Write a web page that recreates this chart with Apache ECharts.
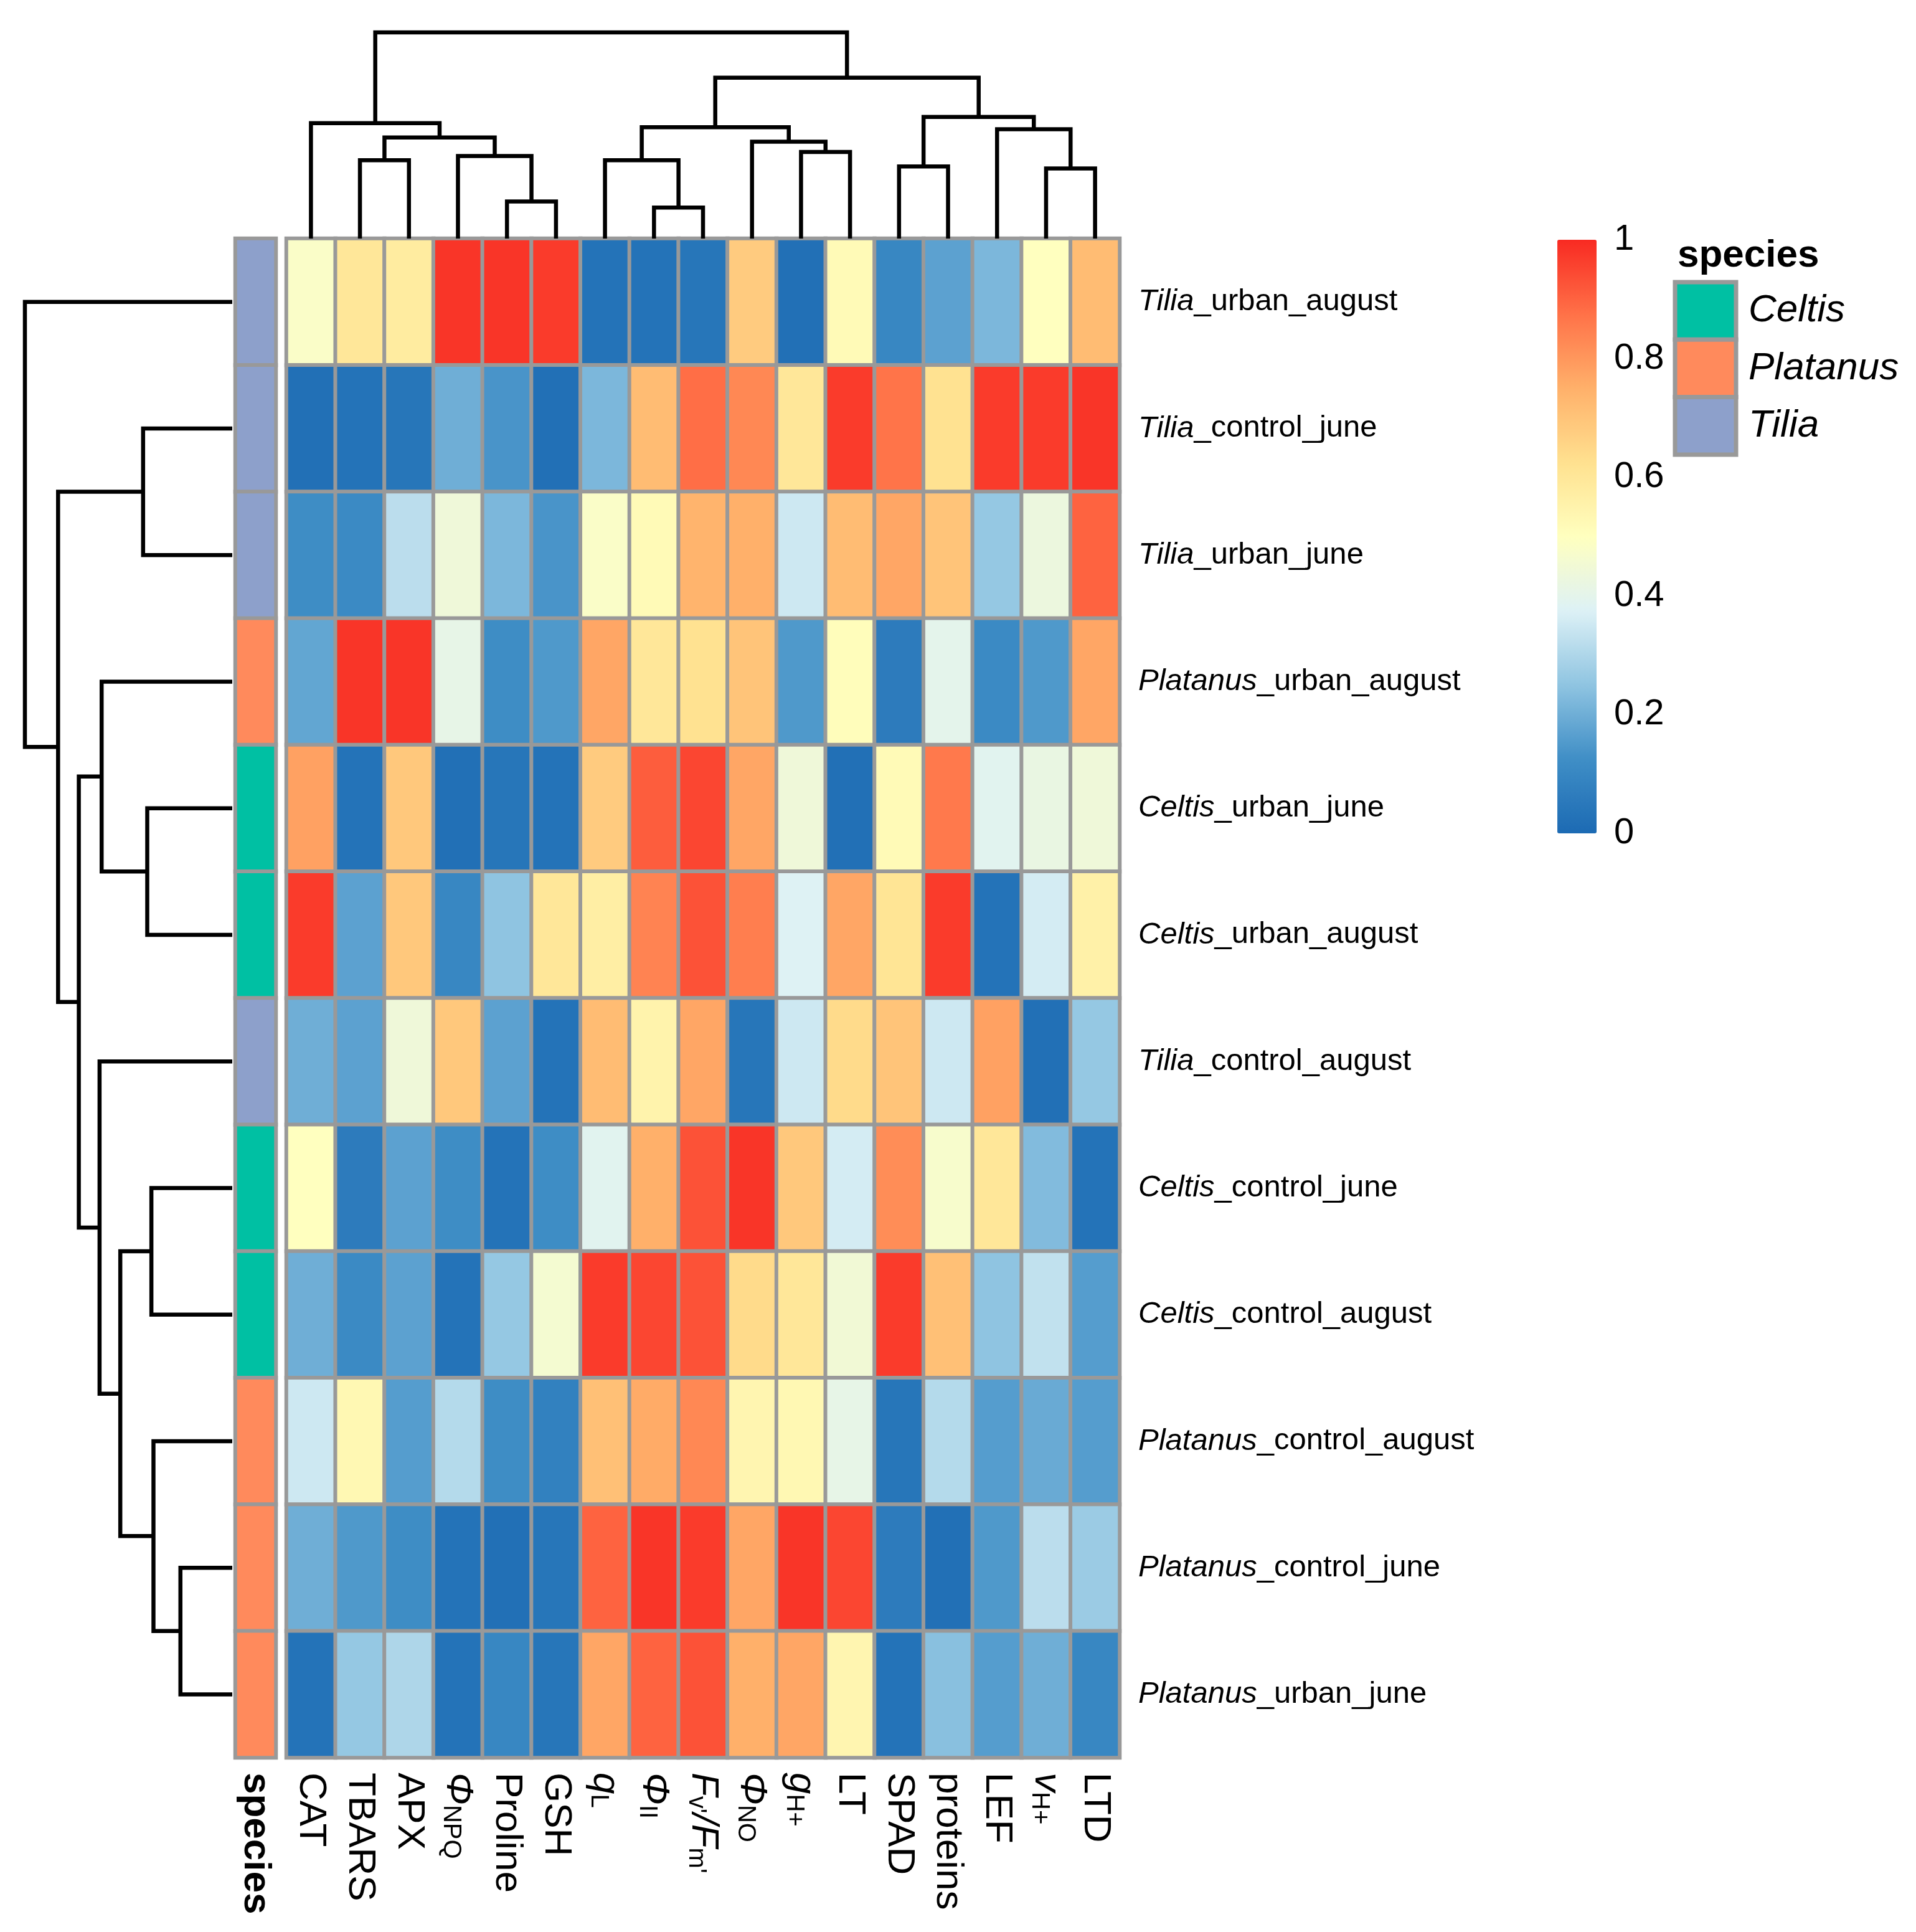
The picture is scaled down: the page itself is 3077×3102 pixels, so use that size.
<!DOCTYPE html>
<html><head><meta charset="utf-8">
<script src="https://cdn.jsdelivr.net/npm/echarts@6/dist/echarts.min.js"></script>
<style>html,body{margin:0;padding:0;background:#fff}#c{width:3077px;height:3102px}</style>
</head><body><div id="c"></div>
<script>
// ---------- DATA ----------
const variables = ['CAT','TBARS','APX','{i|Φ}{s|NPQ}','Proline','GSH','{i|q}{s|L}','{i|Φ}{s|II}',"{i|F}{s|v'}{i|/F}{s|m'}",'{i|Φ}{s|NO}','{i|g}{s|H+}','LT','SPAD','proteins','LEF','{i|v}{s|H+}','LTD'];
const samples = ['Tilia_urban_august','Tilia_control_june','Tilia_urban_june','Platanus_urban_august','Celtis_urban_june','Celtis_urban_august','Tilia_control_august','Celtis_control_june','Celtis_control_august','Platanus_control_august','Platanus_control_june','Platanus_urban_june'];
const sampleSpecies = ['Tilia','Tilia','Tilia','Platanus','Celtis','Celtis','Tilia','Celtis','Celtis','Platanus','Platanus','Platanus'];
const speciesNames = ['Celtis','Platanus','Tilia'];
const values = [
 [0.48,0.60,0.58,0.98,0.98,0.97,0.03,0.03,0.04,0.68,0.02,0.52,0.10,0.17,0.22,0.50,0.72],
 [0.02,0.03,0.04,0.20,0.14,0.02,0.22,0.72,0.88,0.83,0.60,0.97,0.87,0.62,0.97,0.97,0.98],
 [0.12,0.11,0.32,0.44,0.22,0.14,0.48,0.52,0.74,0.75,0.35,0.72,0.77,0.70,0.26,0.43,0.90],
 [0.18,0.98,0.98,0.41,0.12,0.15,0.77,0.60,0.62,0.70,0.15,0.51,0.06,0.40,0.11,0.15,0.77],
 [0.78,0.03,0.69,0.02,0.04,0.03,0.68,0.91,0.95,0.77,0.44,0.02,0.52,0.86,0.39,0.42,0.44],
 [0.97,0.17,0.69,0.10,0.25,0.60,0.57,0.84,0.93,0.85,0.38,0.77,0.61,0.97,0.03,0.36,0.56],
 [0.20,0.17,0.44,0.69,0.17,0.03,0.72,0.55,0.77,0.04,0.35,0.64,0.70,0.35,0.78,0.02,0.26],
 [0.50,0.06,0.17,0.12,0.03,0.12,0.39,0.75,0.93,0.98,0.69,0.36,0.82,0.47,0.60,0.23,0.03],
 [0.20,0.11,0.17,0.03,0.26,0.46,0.97,0.95,0.93,0.64,0.60,0.45,0.97,0.71,0.25,0.33,0.16],
 [0.35,0.53,0.16,0.31,0.12,0.08,0.71,0.76,0.83,0.54,0.53,0.41,0.04,0.31,0.16,0.19,0.16],
 [0.20,0.15,0.12,0.03,0.02,0.04,0.90,0.98,0.97,0.77,0.98,0.95,0.06,0.02,0.15,0.32,0.27],
 [0.03,0.26,0.30,0.03,0.10,0.04,0.77,0.90,0.93,0.75,0.77,0.54,0.03,0.24,0.16,0.20,0.10]
];
// hclust-style merges: negative = leaf (1-based display position), positive = earlier merge
const colMerges = [
 [-5,-6,0.18],[-2,-3,0.38],[-4,1,0.40],[2,3,0.49],[-1,4,0.56],
 [-8,-9,0.15],[-7,6,0.38],[-11,-12,0.42],[-10,8,0.47],[7,9,0.54],
 [-13,-14,0.35],[-16,-17,0.34],[-15,12,0.53],[11,13,0.59],[10,14,0.78],[5,15,1.00]
];
const rowMerges = [
 [-2,-3,0.43],[-5,-6,0.41],[-4,2,0.63],[-8,-9,0.39],[-11,-12,0.25],
 [-10,5,0.38],[4,6,0.54],[-7,7,0.64],[3,8,0.74],[1,9,0.84],[-1,10,1.00]
];
const colorbarTicks = [0,0.2,0.4,0.6,0.8,1];

// ---------- STYLE ----------
const FONT = 'Liberation Sans, Arial, sans-serif';
const palette = ['#1C6AB3','#3F8EC6','#8FC4E1','#DDF1F6','#FFFFBF','#FFE18F','#FFB06A','#FF7148','#F82A22'];
const speciesColors = ['#00C0A3','#FF8A5C','#8DA0CB'];

function dendroSegments(merges){
  const pos=[], ht=[];
  const get = (c)=> c<0 ? [(-c)-0.5, 0] : [pos[c-1], ht[c-1]];
  return merges.map((m)=>{
    const a=get(m[0]), b=get(m[1]);
    pos.push((a[0]+b[0])/2); ht.push(m[2]);
    return [a[0],a[1],b[0],b[1],m[2]];
  });
}
const colSegs = dendroSegments(colMerges);
const rowSegs = dendroSegments(rowMerges);

function dendroRender(horizontal){
  return function(params, api){
    const x1=api.value(0), h1=api.value(1), x2=api.value(2), h2=api.value(3), h=api.value(4);
    const P = horizontal ? (p,hh)=>api.coord([hh,p]) : (p,hh)=>api.coord([p,hh]);
    return {type:'polyline', shape:{points:[P(x1,h1),P(x1,h),P(x2,h),P(x2,h2)]},
      style:{stroke:'#000', lineWidth:6.5, fill:null, lineJoin:'miter', lineCap:'butt'}};
  };
}

const heatData=[];
values.forEach((row,r)=>row.forEach((v,c)=>heatData.push([c,r,v])));
const annData = sampleSpecies.map((s,r)=>[0,r,speciesNames.indexOf(s)]);

const HM = {left:460, top:383, width:1338, height:2439};

const legendTop = 453, boxH = 92.3;
const graphic = [{type:'text', x:2694, y:411, style:{text:'species', font:'bold 62px '+FONT, fill:'#000', verticalAlign:'middle'}}];
speciesNames.forEach((n,i)=>{
  graphic.push({type:'rect', shape:{x:2690, y:legendTop+i*boxH, width:98, height:boxH},
    style:{fill:speciesColors[i], stroke:'#999999', lineWidth:7}});
  graphic.push({type:'text', x:2808, y:legendTop+i*boxH+boxH/2, style:{text:n, font:'italic 62px '+FONT, fill:'#000', verticalAlign:'middle'}});
});

const option = {
  animation:false,
  backgroundColor:'#fff',
  grid:[
    {left:HM.left, top:HM.top, width:HM.width, height:HM.height},
    {left:378, top:HM.top, width:65, height:HM.height},
    {left:HM.left, top:52, width:HM.width, height:HM.top-52},
    {left:40, top:HM.top, width:333, height:HM.height},
    {left:2501, top:385, width:63, height:953}
  ],
  xAxis:[
    {type:'category', gridIndex:0, data:variables, position:'bottom',
     axisLine:{show:false}, axisTick:{show:false},
     axisLabel:{rotate:-90, margin:24, fontSize:62, fontFamily:FONT, color:'#000', interval:0,
       rich:{i:{fontStyle:'italic', fontSize:62, fontFamily:FONT, color:'#000'},
             s:{fontSize:40, fontFamily:FONT, color:'#000', verticalAlign:'bottom'}}}},
    {type:'category', gridIndex:1, data:['species'], axisLine:{show:false}, axisTick:{show:false},
     axisLabel:{rotate:-90, margin:24, fontSize:62, fontWeight:'bold', fontFamily:FONT, color:'#000'}},
    {type:'value', gridIndex:2, min:0, max:variables.length, show:false},
    {type:'value', gridIndex:3, min:0, max:1, inverse:true, show:false},
    {type:'value', gridIndex:4, min:0, max:1, show:false}
  ],
  yAxis:[
    {type:'category', gridIndex:0, data:samples, inverse:true, position:'right',
     axisLine:{show:false}, axisTick:{show:false},
     axisLabel:{margin:30, fontSize:49, fontFamily:FONT, color:'#000', interval:0,
       formatter:(v)=>{const k=v.indexOf('_'); return '{i|'+v.slice(0,k)+'}{n|'+v.slice(k)+'}';},
       rich:{i:{fontStyle:'italic', fontSize:49, fontFamily:FONT, color:'#000'},
             n:{fontSize:49, fontFamily:FONT, color:'#000'}}}},
    {type:'category', gridIndex:1, data:samples, inverse:true, show:false},
    {type:'value', gridIndex:2, min:0, max:1, show:false},
    {type:'value', gridIndex:3, min:0, max:samples.length, inverse:true, show:false},
    {type:'value', gridIndex:4, min:colorbarTicks[0], max:colorbarTicks[colorbarTicks.length-1], interval:0.2, position:'right',
     axisLine:{show:false}, axisTick:{show:false}, splitLine:{show:false},
     axisLabel:{margin:28, fontSize:58, fontFamily:FONT, color:'#000'}}
  ],
  visualMap:[
    {type:'continuous', seriesIndex:0, min:0, max:1, inRange:{color:palette},
     left:2501, top:385, itemWidth:63, itemHeight:953, calculable:false, padding:0,
     orient:'vertical', hoverLink:false, show:true, textStyle:{fontSize:0}},
    {type:'piecewise', seriesIndex:1, show:false,
     pieces:speciesNames.map((n,i)=>({value:i, color:speciesColors[i]}))}
  ],
  graphic: graphic,
  series:[
    {type:'heatmap', xAxisIndex:0, yAxisIndex:0, data:heatData,
     itemStyle:{borderColor:'#999999', borderWidth:6}, emphasis:{disabled:true}},
    {type:'heatmap', xAxisIndex:1, yAxisIndex:1, data:annData,
     itemStyle:{borderColor:'#999999', borderWidth:6}, emphasis:{disabled:true}},
    {type:'custom', xAxisIndex:2, yAxisIndex:2, data:colSegs, renderItem:dendroRender(false), silent:true},
    {type:'custom', xAxisIndex:3, yAxisIndex:3, data:rowSegs, renderItem:dendroRender(true), silent:true}
  ]
};
const chart = echarts.init(document.getElementById('c'));
chart.setOption(option);
</script></body></html>
